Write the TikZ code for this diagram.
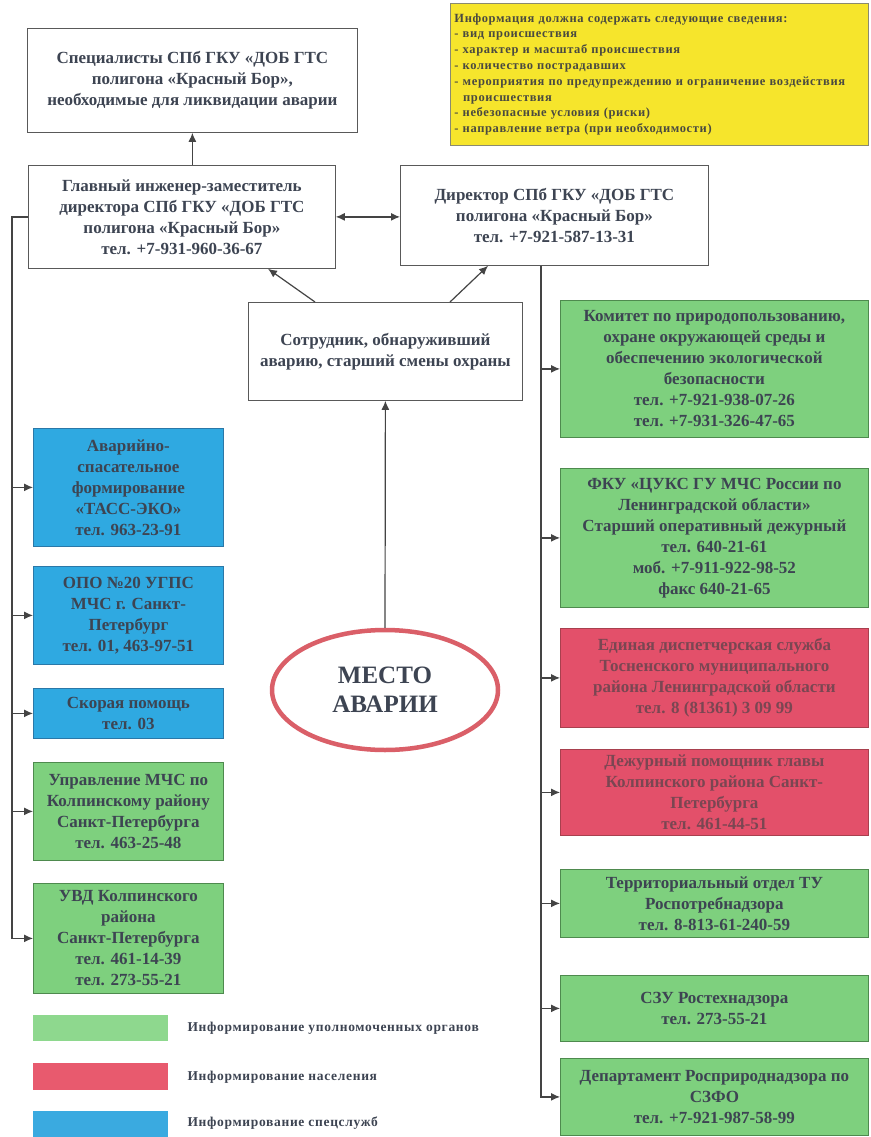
\documentclass[tikz,border=0pt]{standalone}
\usepackage{fontspec}
\setmainfont{Liberation Serif}
\usetikzlibrary{arrows.meta,calc,shapes.geometric}
\definecolor{txt}{HTML}{3D4452}
\definecolor{gfill}{HTML}{7ED07E}
\definecolor{gdraw}{HTML}{4E8A4E}
\definecolor{bfill}{HTML}{2FA9E1}
\definecolor{bdraw}{HTML}{2A78A8}
\definecolor{rfill}{HTML}{E3506A}
\definecolor{rdraw}{HTML}{A8404E}
\definecolor{rtxt}{HTML}{7A4652}
\definecolor{yfill}{HTML}{F6E52C}
\definecolor{ydraw}{HTML}{8A8A70}
\definecolor{ytxt}{HTML}{4A4A40}
\definecolor{lcol}{HTML}{444444}
\definecolor{ell}{HTML}{DA5F68}
\definecolor{lg}{HTML}{8ED88E}
\definecolor{lr}{HTML}{E85A6E}
\definecolor{lb}{HTML}{3AAAE0}
\begin{document}
\begin{tikzpicture}[x=1pt,y=-1pt,
  base/.style={anchor=north west, align=center, text=txt, inner sep=2pt, line width=0.8pt,
    font=\bfseries\fontsize{17}{21}\selectfont},
  wbox/.style={base, draw=gray!70!black, fill=white},
  gbox/.style={base, draw=gdraw, fill=gfill},
  bbox/.style={base, draw=bdraw, fill=bfill},
  rbox/.style={base, draw=rdraw, fill=rfill, text=rtxt},
  con/.style={draw=lcol, line width=1.2pt},
  arr/.style={con, -{Latex[length=9pt,width=8pt]}},
  darr/.style={con, {Latex[length=9pt,width=8pt]}-{Latex[length=9pt,width=8pt]}},
  legtxt/.style={anchor=west, text=txt, font=\bfseries\fontsize{13.5}{15}\selectfont\addfontfeature{LetterSpace=5}}
]
\fill[white] (0,0) rectangle (870,1137);
\path[use as bounding box] (0,0) rectangle (870,1137);

% top
\node[wbox, minimum width=330pt, minimum height=104pt] (spec) at (27,28)
  {Специалисты СПб ГКУ «ДОБ ГТС\\ полигона «Красный Бор»,\\ необходимые для ликвидации аварии};
\node[base, draw=ydraw, fill=yfill, text=ytxt, align=left, text width=410pt, inner xsep=4pt,
  minimum height=142pt, font=\bfseries\fontsize{12.5}{15.8}\selectfont\addfontfeature{LetterSpace=5}] (info) at (450,3)
  {Информация должна содержать следующие сведения:\\
   - вид происшествия\\
   - характер и масштаб происшествия\\
   - количество пострадавших\\
   - мероприятия по предупреждению и ограничение воздействия\\
   \hspace*{0.7em}происшествия\\
   - небезопасные условия (риски)\\
   - направление ветра (при необходимости)};
\node[wbox, minimum width=307pt, minimum height=103pt] (glav) at (28,165)
  {Главный инженер-заместитель\\ директора СПб ГКУ «ДОБ ГТС\\ полигона «Красный Бор»\\ тел. +7-931-960-36-67};
\node[wbox, minimum width=308pt, minimum height=100pt] (dir) at (400,165)
  {Директор СПб ГКУ «ДОБ ГТС\\ полигона «Красный Бор»\\ тел. +7-921-587-13-31};
\node[wbox, minimum width=274pt, minimum height=98pt] (sotr) at (248,302)
  {Сотрудник, обнаруживший\\ аварию, старший смены охраны};
\node[ellipse, draw=ell, line width=4.5pt, minimum width=226pt, minimum height=120pt, align=center,
  text=txt, font=\bfseries\fontsize{25}{29}\selectfont] (mesto) at (385,690) {МЕСТО\\ АВАРИИ};

% left column
\node[bbox, minimum width=190pt, minimum height=118pt] (L1) at (33,428)
  {Аварийно-\\ спасательное\\ формирование\\ «ТАСС-ЭКО»\\ тел. 963-23-91};
\node[bbox, minimum width=190pt, minimum height=98pt] (L2) at (33,566)
  {ОПО №20 УГПС\\ МЧС г. Санкт-\\ Петербург\\ тел. 01, 463-97-51};
\node[bbox, minimum width=190pt, minimum height=50pt] (L3) at (33,688)
  {Скорая помощь\\ тел. 03};
\node[gbox, minimum width=190pt, minimum height=98pt] (L4) at (33,762)
  {Управление МЧС по\\ Колпинскому району\\ Санкт-Петербурга\\ тел. 463-25-48};
\node[gbox, minimum width=190pt, minimum height=110pt] (L5) at (33,883)
  {УВД Колпинского\\ района\\ Санкт-Петербурга\\ тел. 461-14-39\\ тел. 273-55-21};

% right column
\node[gbox, minimum width=308pt, minimum height=137pt] (R1) at (560,300)
  {Комитет по природопользованию,\\ охране окружающей среды и\\ обеспечению экологической\\ безопасности\\ тел. +7-921-938-07-26\\ тел. +7-931-326-47-65};
\node[gbox, minimum width=308pt, minimum height=139pt] (R2) at (560,468)
  {ФКУ «ЦУКС ГУ МЧС России по\\ Ленинградской области»\\ Старший оперативный дежурный\\ тел. 640-21-61\\ моб. +7-911-922-98-52\\ факс 640-21-65};
\node[rbox, minimum width=308pt, minimum height=99pt] (R3) at (560,628)
  {Единая диспетчерская служба\\ Тосненского муниципального\\ района Ленинградской области\\ тел. 8 (81361) 3 09 99};
\node[rbox, minimum width=308pt, minimum height=86pt] (R4) at (560,749)
  {Дежурный помощник главы\\ Колпинского района Санкт-\\ Петербурга\\ тел. 461-44-51};
\node[gbox, minimum width=308pt, minimum height=68pt] (R5) at (560,869)
  {Территориальный отдел ТУ\\ Роспотребнадзора\\ тел. 8-813-61-240-59};
\node[gbox, minimum width=308pt, minimum height=66pt] (R6) at (560,975)
  {СЗУ Ростехнадзора\\ тел. 273-55-21};
\node[gbox, minimum width=308pt, minimum height=77pt] (R7) at (560,1058)
  {Департамент Росприроднадзора по\\ СЗФО\\ тел. +7-921-987-58-99};

% legend
\node[anchor=north west, fill=lg, minimum width=135pt, minimum height=26pt, inner sep=0pt] (sg) at (33,1015) {};
\node[anchor=north west, fill=lr, minimum width=135pt, minimum height=27pt, inner sep=0pt] (sr) at (33,1063) {};
\node[anchor=north west, fill=lb, minimum width=135pt, minimum height=26pt, inner sep=0pt] (sb) at (33,1111) {};
\node[legtxt] (tg) at (184,1028) {Информирование уполномоченных органов};
\node[legtxt] (tr) at (184,1077) {Информирование населения};
\node[legtxt] (tb) at (184,1123) {Информирование спецслужб};

% connectors
\draw[arr] (glav.north -| spec.south) -- (spec.south);
\draw[darr] (glav.east) -- (glav.east -| dir.west);
\draw[arr] ($(sotr.north west)+(67,0)$) -- ($(glav.south west)+(240,0)$);
\draw[arr] ($(sotr.north west)+(202,0)$) -- ($(dir.south west)+(88,0)$);
\draw[arr] (mesto.north) -- (sotr.south);

\coordinate (lbus) at (12,0);
\draw[arr] (glav.west) -- (glav.west -| lbus) -- (lbus |- L5.west) -- (L5.west);
\foreach \n in {L1,L2,L3,L4} \draw[arr] (lbus |- \n.west) -- (\n.west);

\coordinate (rbus) at (541,0);
\draw[arr] (dir.south -| rbus) -- (rbus |- R7.west) -- (R7.west);
\foreach \n in {R1,R2,R3,R4,R5,R6} \draw[arr] (rbus |- \n.west) -- (\n.west);
\end{tikzpicture}
\end{document}
